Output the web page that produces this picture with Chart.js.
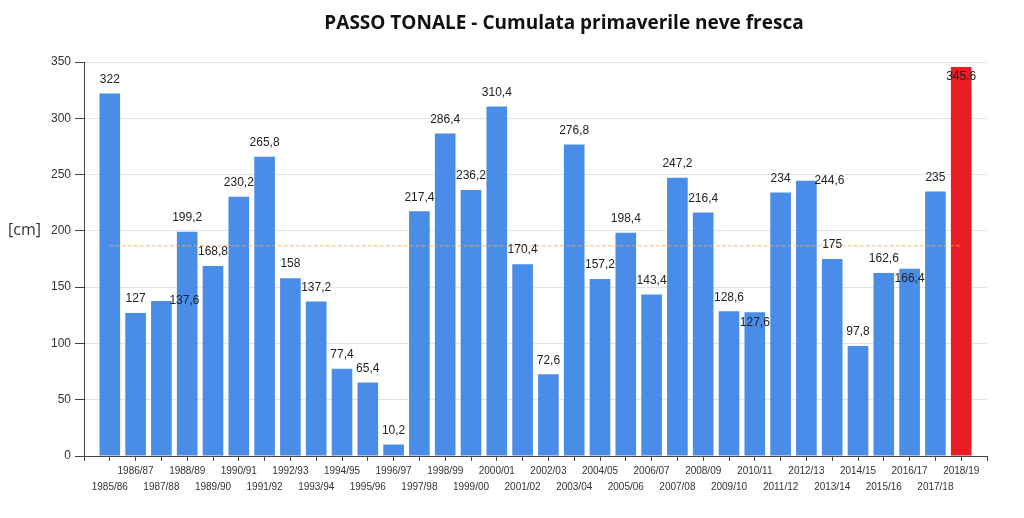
<!DOCTYPE html>
<html>
<head>
<meta charset="utf-8">
<title>Passo Tonale - Cumulata primaverile neve fresca</title>
<script src="https://cdn.jsdelivr.net/npm/chart.js@4/dist/chart.umd.min.js"></script>
<style>
  html, body { margin: 0; padding: 0; background: #fff; }
  canvas { display: block; }
</style>
</head>
<body>
<canvas id="snowChart" width="1024" height="518"></canvas>
<script>
// stagioni invernali
const seasons = [
    '1985/86', '1986/87', '1987/88', '1988/89', '1989/90', '1990/91', '1991/92',
    '1992/93', '1993/94', '1994/95', '1995/96', '1996/97', '1997/98', '1998/99',
    '1999/00', '2000/01', '2001/02', '2002/03', '2003/04', '2004/05', '2005/06',
    '2006/07', '2007/08', '2008/09', '2009/10', '2010/11', '2011/12', '2012/13',
    '2013/14', '2014/15', '2015/16', '2016/17', '2017/18', '2018/19'
];
// cumulata primaverile neve fresca [cm]
const snowCm = [
    322, 127, 137.6, 199.2, 168.8, 230.2, 265.8,
    158, 137.2, 77.4, 65.4, 10.2, 217.4, 286.4,
    236.2, 310.4, 170.4, 72.6, 276.8, 157.2, 198.4,
    143.4, 247.2, 216.4, 128.6, 127.6, 234, 244.6,
    175, 97.8, 162.6, 166.4, 235, 345.6
];
const meanCm = 186.7;          // media (linea tratteggiata)
const currentSeason = '2018/19'; // stagione evidenziata in rosso
const yMax = 350;
const yStep = 50;

// etichette spostate come nell'originale (per evitare sovrapposizioni)
const labelShift = { 2: 'right', 25: 'inside', 27: 'right', 31: 'inside', 33: 'inside' };

const BLUE = '#4a8de8';
const RED = '#ec1c24';

const fmt = v => String(v).replace('.', ',');

// valori sopra le barre
const valueLabels = {
    id: 'valueLabels',
    afterDatasetsDraw(chart) {
        const ctx = chart.ctx;
        const meta = chart.getDatasetMeta(0);
        ctx.save();
        ctx.font = '12px "Liberation Sans", Arial, sans-serif';
        ctx.fillStyle = '#222';
        ctx.textAlign = 'center';
        ctx.textBaseline = 'middle';
        meta.data.forEach((bar, i) => {
            let x = bar.x, y = bar.y - 14;
            if (labelShift[i] === 'right') { x += 23; y += 14; }
            if (labelShift[i] === 'inside') { y += 24; }
            ctx.fillText(fmt(snowCm[i]), x, y);
        });
        ctx.restore();
    }
};

// titolo e unità
const headerText = {
    id: 'headerText',
    afterDraw(chart) {
        const ctx = chart.ctx;
        ctx.save();
        ctx.fillStyle = '#111';
        ctx.textAlign = 'center';
        ctx.textBaseline = 'middle';
        ctx.font = 'bold 19px "Open Sans", sans-serif';
        ctx.fillText('PASSO TONALE - Cumulata primaverile neve fresca', 564, 24);
        ctx.fillStyle = '#333';
        ctx.textAlign = 'left';
        ctx.font = '16px "Open Sans", sans-serif';
        ctx.fillText('[cm]', 8, 230);
        ctx.restore();
    }
};

new Chart(document.getElementById('snowChart'), {
    type: 'bar',
    data: {
        datasets: [{
            type: 'bar',
            data: seasons.map((s, i) => ({ x: i, y: snowCm[i] })),
            backgroundColor: seasons.map(s => s === currentSeason ? RED : BLUE),
            categoryPercentage: 1,
            barPercentage: 0.8,
            order: 1
        }, {
            type: 'line',
            data: [{ x: 0, y: meanCm }, { x: seasons.length - 1, y: meanCm }],
            borderColor: 'rgba(240, 170, 80, 0.8)',
            borderWidth: 1,
            borderDash: [4, 2],
            pointRadius: 0,
            fill: false,
            order: 0
        }]
    },
    options: {
        responsive: false,
        animation: false,
        devicePixelRatio: 1,
        layout: { padding: { top: 62, right: 37, left: 0, bottom: 0 } },
        plugins: {
            legend: { display: false },
            tooltip: { enabled: false }
        },
        scales: {
            x: {
                type: 'linear',
                min: -1,
                max: seasons.length,
                offset: false,
                grid: { display: true, drawOnChartArea: false, offset: false, tickLength: 5, tickColor: '#444' },
                border: { color: '#444' },
                ticks: {
                    stepSize: 1,
                    maxTicksLimit: 100,
                    autoSkip: false,
                    maxRotation: 0,
                    padding: 2,
                    color: '#333',
                    font: { size: 10, family: '"Liberation Sans", Arial, sans-serif', lineHeight: 1.6 },
                    callback: v => {
                        const s = seasons[v];
                        if (!s) return '';
                        return v % 2 === 1 ? [s] : ['', s];
                    }
                },
                afterFit: scale => { scale.height = 62; }
            },
            y: {
                min: 0,
                max: yMax,
                grid: { color: '#e3e3e3', tickLength: 9, tickColor: '#444' },
                border: { color: '#444' },
                ticks: {
                    stepSize: yStep,
                    padding: 4,
                    color: '#333',
                    font: { size: 12, family: '"Liberation Sans", Arial, sans-serif' }
                },
                afterFit: scale => { scale.width = 84; }
            }
        }
    },
    plugins: [valueLabels, headerText]
});
</script>
</body>
</html>
